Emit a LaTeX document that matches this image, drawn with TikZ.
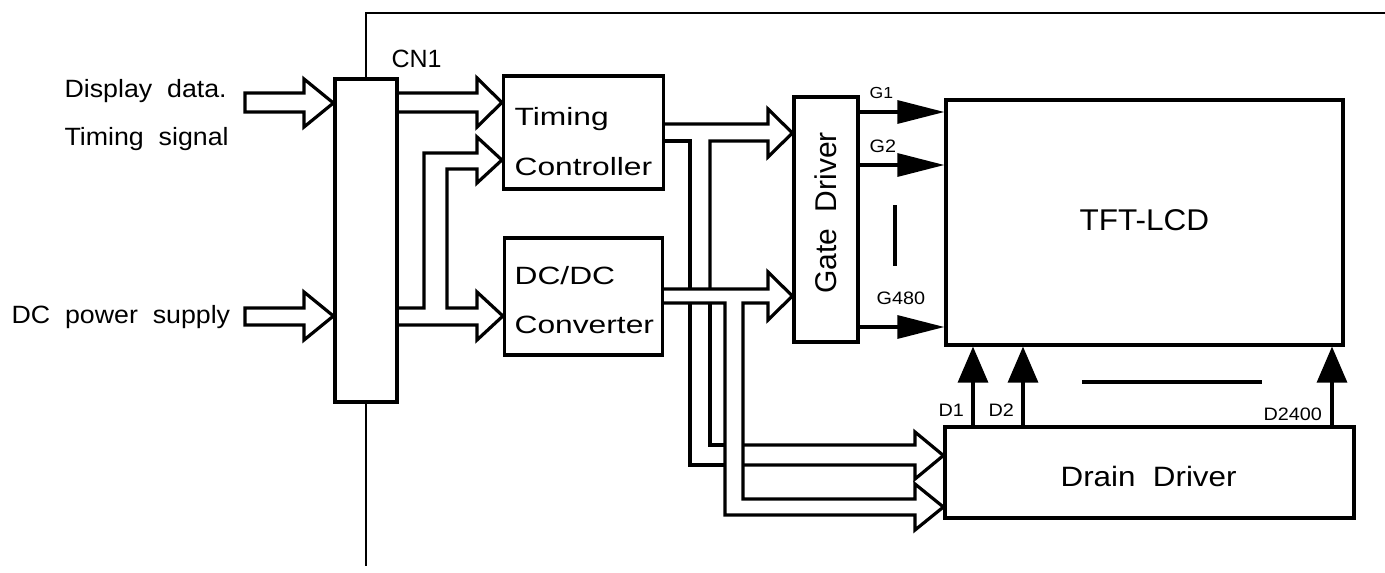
\documentclass[tikz,border=0pt]{standalone}
\usepackage{fontspec}
\setmainfont{Liberation Sans}
\newfontfamily\fside[FakeStretch=1.07]{Liberation Sans}
\newfontfamily\fblk[FakeStretch=1.27]{Liberation Sans}
\newfontfamily\fsml[FakeStretch=1.1]{Liberation Sans}
\newfontfamily\fdrn[FakeStretch=1.12]{Liberation Sans}
\newfontfamily\flcd[FakeStretch=1.05]{Liberation Sans}
\usetikzlibrary{arrows.meta}
\begin{document}
\begin{tikzpicture}[x=1pt,y=-1pt,line width=3.2pt,
  blk/.style={draw,inner sep=0pt},
  lbl/.style={inner sep=0pt,anchor=base west},
  bus/.style={line join=miter},
  frame/.style={line width=2.8pt},
  garrow/.style={-{Triangle[length=47pt,width=23pt]}},
  darrow/.style={-{Triangle[length=36pt,width=30pt]}},
  sidefont/.style={font=\fside\fontsize{25}{30}\selectfont},
  blkfont/.style={font=\fblk\fontsize{25}{30}\selectfont},
  smlfont/.style={font=\fsml\fontsize{18}{22}\selectfont}]
\useasboundingbox (0,0) rectangle (1385,573);

% boxes
\node[blk,minimum width=62pt,minimum height=323pt] (cn1) at (366,240.5) {};
\node[blk,minimum width=160pt,minimum height=113pt] (tc) at (583.5,132.5) {};
\node[blk,minimum width=158pt,minimum height=117pt] (dc) at (583.5,296.5) {};
\node[blk,minimum width=64pt,minimum height=245pt] (gd) at (826,219.5) {};
\node[blk,minimum width=397pt,minimum height=245pt] (lcd) at (1144.5,222.5) {};
\node[blk,minimum width=409pt,minimum height=91pt] (dd) at (1149.5,472.5) {};

% outer frame
\coordinate (ftop) at (1385,13);
\coordinate (fbot) at (366,566);
\draw[frame] (cn1.north) -- (cn1.north |- ftop) -- (ftop);
\draw[frame] (cn1.south) -- (fbot);

% input block arrows
\draw[bus] (cn1.west |- 0,103) -- (304,79) -- (304,93) -- (245,93) -- (245,112) -- (304,112) -- (304,127) -- cycle;
\draw[bus] (cn1.west |- 0,316) -- (304,292) -- (304,308) -- (245,308) -- (245,325) -- (304,325) -- (304,340) -- cycle;

% CN1 -> Timing Controller (top)
\draw[bus] (cn1.east |- 0,93) -- (477,93) -- (477,78) -- (tc.west |- 0,102.5) -- (477,127) -- (477,112) -- (cn1.east |- 0,112);
% CN1 -> Timing Controller (lower) and DC/DC
\draw[bus] (cn1.east |- 0,308) -- (424,308) -- (424,153) -- (477,153) -- (477,137) -- (tc.west |- 0,160) -- (477,183) -- (477,169) -- (447,169) -- (447,308) -- (477,308) -- (477,292) -- (dc.west |- 0,316) -- (477,340) -- (477,325) -- (cn1.east |- 0,325);

% Timing Controller -> Gate Driver and down to Drain Driver
\draw[bus] (tc.east |- 0,124) -- (768,124) -- (768,109) -- (gd.west |- 0,133) -- (768,157) -- (768,141) -- (710,141) -- (710,289);
\draw[bus] (tc.east |- 0,141) -- (690,141) -- (690,289);
\draw[bus] (690,303) -- (690,465) -- (725,465);
\draw[bus] (710,303) -- (710,445) -- (725,445);
\draw[bus] (743,445) -- (915,445) -- (915,432) -- (dd.west |- 0,455.5) -- (915,479) -- (915,465) -- (743,465);

% DC/DC -> Gate Driver and Drain Driver
\draw[bus] (dc.east |- 0,289) -- (768,289) -- (768,272) -- (gd.west |- 0,296) -- (768,320) -- (768,303) -- (743,303) -- (743,499) -- (915,499) -- (915,484) -- (dd.west |- 0,507) -- (915,530) -- (915,515) -- (725,515) -- (725,303) -- (dc.east |- 0,303);

% gate lines
\draw[garrow] (gd.east |- 0,112) -- (lcd.west |- 0,112);
\draw[garrow] (gd.east |- 0,165) -- (lcd.west |- 0,165);
\draw[garrow] (gd.east |- 0,327) -- (lcd.west |- 0,327);
\draw (895,205) -- (895,266);

% drain lines
\draw[darrow] (dd.north -| 973,0) -- (lcd.south -| 973,0);
\draw[darrow] (dd.north -| 1023,0) -- (lcd.south -| 1023,0);
\draw[darrow] (dd.north -| 1332,0) -- (lcd.south -| 1332,0);
\draw (1082,382) -- (1262,382);

% texts
\node[lbl,sidefont] (tdisp) at (63,97) {Display\ \ data.};
\node[lbl,sidefont] (ttim) at (63,145) {Timing\ \ signal};
\node[lbl,sidefont] (tdcp) at (10,323) {DC\ \ power\ \ supply};
\node[lbl,font=\fontsize{25}{30}\selectfont] (tcn) at (390,67) {CN1};
\node[lbl,blkfont] (ttc1) at (513,125) {Timing};
\node[lbl,blkfont] (ttc2) at (513,175) {Controller};
\node[lbl,blkfont] (tdc1) at (513,284) {DC/DC};
\node[lbl,blkfont] (tdc2) at (513,333) {Converter};
\node[inner sep=0pt,rotate=90,font=\fontsize{30}{36}\selectfont] (tgd) at (826,213) {Gate\ \ Driver};
\node[lbl,font=\flcd\fontsize{30}{36}\selectfont] (tlcd) at (1078,230) {TFT-LCD};
\node[lbl,font=\fdrn\fontsize{28}{34}\selectfont] (tdd) at (1059,486) {Drain\ \ Driver};
\node[lbl,font=\fsml\fontsize{16}{20}\selectfont] (tg1) at (868,98) {G1};
\node[lbl,smlfont] (tg2) at (868,152) {G2};
\node[lbl,smlfont] (tg480) at (875,304) {G480};
\node[lbl,smlfont] (td1) at (937,416) {D1};
\node[lbl,smlfont] (td2) at (987,416) {D2};
\node[lbl,smlfont] (td2400) at (1262,420) {D2400};
\end{tikzpicture}
\end{document}
